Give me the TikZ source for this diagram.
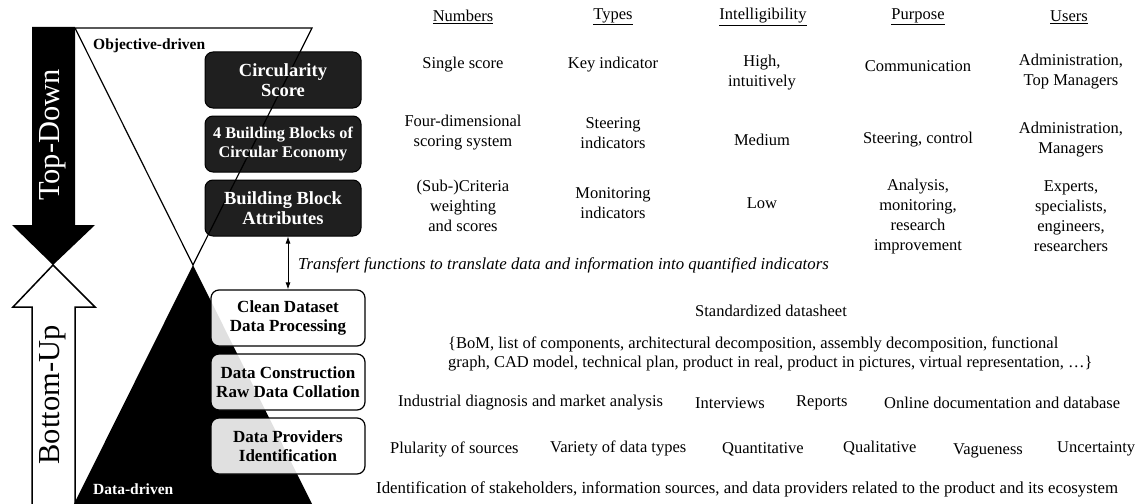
\documentclass[tikz,border=0pt]{standalone}
\usepackage{fontspec}
\setmainfont{Liberation Serif}
\usetikzlibrary{arrows.meta}

\begin{document}
\begin{tikzpicture}[x=1pt,y=-1pt,
    darkbox/.style={draw=black,line width=1pt,fill=black,fill opacity=0.88,text opacity=1,
      text=white,rounded corners=8pt,minimum width=156pt,minimum height=56pt,align=center,
      font=\bfseries\fontsize{18.5}{20}\selectfont},
    lightbox/.style={darkbox,line width=1.2pt,fill=white,text=black,minimum width=154pt,
      font=\bfseries\fontsize{17}{19.5}\selectfont},
    cell/.style={inner sep=0pt,align=center,font=\fontsize{16.5}{20}\selectfont},
    item/.style={cell,anchor=west}]
  \useasboundingbox (0,0) rectangle (1142,503);
  % Top-Down / Bottom-Up arrows
  \fill[black] (32,27) -- (75,27) -- (75,225) -- (95,225) -- (53,265) -- (12,225)
    -- (32,225) -- cycle;
  \draw[line width=1.5pt,fill=white] (32,506) -- (32,307) -- (13,307) -- (53,265)
    -- (95,307) -- (75,307) -- (75,506);
  \node[rotate=90,text=white,font=\fontsize{30.5}{32}\selectfont] (td) at (53,135) {Top-Down};
  \node[rotate=90,font=\fontsize{30.5}{32}\selectfont] (bu) at (53,395) {Bottom-Up};
  % the two triangles
  \coordinate (apex) at (193,265);
  \draw[line width=1.2pt,fill=white] (75,28) -- (312,28) -- (apex) -- cycle;
  \fill[black] (apex) -- (312,504) -- (74,504) -- cycle;
  \node[cell,anchor=west,font=\bfseries\fontsize{15.5}{18}\selectfont] (obj) at (93,46) {Objective-driven};
  \node[cell,anchor=west,text=white,font=\bfseries\fontsize{15.5}{18}\selectfont] (dat) at (93,489) {Data-driven};
  % levels
  \node[darkbox] (cs) at (283,80) {Circularity\\Score};
  \node[darkbox,font=\bfseries\fontsize{16.3}{19}\selectfont] (bb) at (283,144) {4 Building Blocks of\\Circular Economy};
  \node[darkbox] (bba) at (283,208) {Building Block\\Attributes};
  \node[lightbox] (cds) at (288,318) {Clean Dataset\\Data Processing};
  \node[lightbox] (dc) at (288,382) {Data Construction\\Raw Data Collation};
  \node[lightbox] (dp) at (288,446) {Data Providers\\Identification};
  \draw[line width=0.8pt,{Latex[length=7pt,width=5pt]}-{Latex[length=7pt,width=5pt]}]
    (cds.north |- bba.south) -- (cds.north);
  \node[item,font=\itshape\fontsize{16.8}{20}\selectfont] (tf) at (298,265)
    {Transfert functions to translate data and information into quantified indicators};
  % table
  \node[cell] (h1) at (463,17) {\underline{Numbers}};
  \node[cell] (h2) at (613,17) {\underline{Types}};
  \node[cell] (h3) at (763,17) {\underline{Intelligibility}};
  \node[cell] (h4) at (918,17) {\underline{Purpose}};
  \node[cell] (h5) at (1069,17) {\underline{Users}};
  \node[cell] (a1) at (463,65) {Single score};
  \node[cell] (a2) at (613,65) {Key indicator};
  \node[cell] (a3) at (762,73) {High,\\intuitively};
  \node[cell] (a4) at (918,66) {Communication};
  \node[cell] (a5) at (1071,72) {Administration,\\Top Managers};
  \node[cell] (b1) at (463,133) {Four-dimensional\\scoring system};
  \node[cell] (b2) at (613,133) {Steering\\indicators};
  \node[cell] (b3) at (762,140) {Medium};
  \node[cell] (b4) at (918,140) {Steering, control};
  \node[cell] (b5) at (1071,140) {Administration,\\Managers};
  \node[cell] (c1) at (463,206) {(Sub-)Criteria\\weighting\\and scores};
  \node[cell] (c2) at (613,203) {Monitoring\\indicators};
  \node[cell] (c3) at (762,203) {Low};
  \node[cell] (c4) at (918,217) {Analysis,\\monitoring,\\research\\improvement};
  \node[cell] (c5) at (1071,216) {Experts,\\specialists,\\engineers,\\researchers};
  % data side
  \node[cell] (sd) at (771,311) {Standardized datasheet};
  \node[item,align=left,font=\fontsize{16.5}{18.5}\selectfont] (bom) at (448,354)
    {\{BoM, list of components, architectural decomposition, assembly decomposition, functional\\
     graph, CAD model, technical plan, product in real, product in pictures, virtual representation, \dots\}};
  \node[item] (i1) at (398,403) {Industrial diagnosis and market analysis};
  \node[item] (i2) at (695,403) {Interviews};
  \node[item] (i3) at (796,403) {Reports};
  \node[item] (i4) at (884,403) {Online documentation and database};
  \node[item] (p1) at (390,449) {Plularity of sources};
  \node[item] (p2) at (550,448) {Variety of data types};
  \node[item] (p3) at (722,449) {Quantitative};
  \node[item] (p4) at (843,448) {Qualitative};
  \node[item] (p5) at (953,451) {Vagueness};
  \node[item] (p6) at (1057,449) {Uncertainty};
  \node[item,font=\fontsize{16.8}{20}\selectfont] (id) at (376,489)
    {Identification of stakeholders, information sources, and data providers related to the product and its ecosystem};
\end{tikzpicture}
\end{document}
